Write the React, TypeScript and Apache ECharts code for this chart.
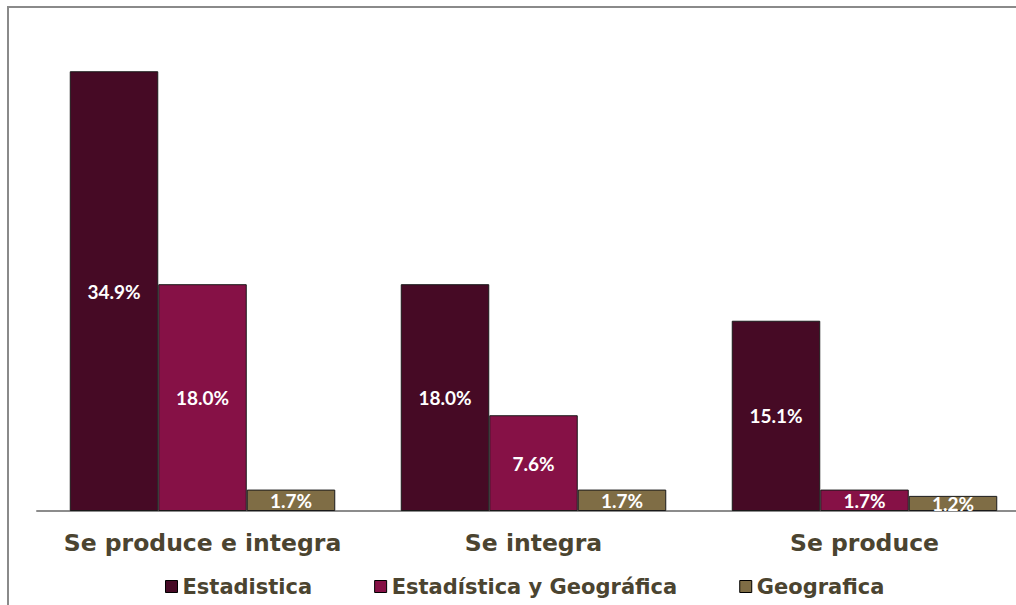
import React, { useEffect, useRef } from "react";
import * as echarts from "echarts";

const categories = ["Se produce e integra", "Se integra", "Se produce"];
const estadistica = [34.9, 18.0, 15.1];
const estadisticaGeografica = [18.0, 7.6, 1.7];
const geografica = [1.7, 1.7, 1.2];
const seriesNames = ["Estadistica", "Estadística y Geográfica", "Geografica"];
const colors = ["#460a25", "#861146", "#7f6d45"];

export default function App() {
  const ref = useRef<HTMLDivElement>(null);
  useEffect(() => {
    if (!ref.current) return;
    const chart = echarts.init(ref.current, undefined, { renderer: "svg" });
    const label = {
      show: true,
      position: "inside",
      color: "#ffffff",
      fontFamily: "Lato",
      fontWeight: "bold",
      fontSize: 19,
      formatter: (p: any) => p.value.toFixed(1) + "%",
    };
    const mk = (name: string, data: number[], color: string) => ({
      name,
      type: "bar",
      data,
      barWidth: 88.5,
      barGap: "0%",
      itemStyle: { color, borderColor: "#1a1a1a", borderWidth: 1 },
      label,
    });
    chart.setOption({
      animation: false,
      color: colors,
      grid: { left: 37, top: 7, right: 0, bottom: 94, containLabel: false },
      xAxis: {
        type: "category",
        data: categories,
        axisLine: { show: true, lineStyle: { color: "#8c8c8c", width: 2 } },
        axisTick: { show: false },
        axisLabel: {
          interval: 0,
          color: "#4b4430",
          fontFamily: "DejaVu Sans",
          fontWeight: "bold",
          fontSize: 23.5,
          margin: 20,
        },
      },
      yAxis: { type: "value", min: 0, max: 40, show: false, splitLine: { show: false } },
      legend: {
        data: seriesNames,
        left: 160,
        top: 571,
        itemWidth: 12,
        itemHeight: 12,
        itemGap: 62,
        icon: "rect",
        itemStyle: { borderColor: "#000000", borderWidth: 1 },
        textStyle: {
          color: "#4b4430",
          fontFamily: "DejaVu Sans",
          fontWeight: "bold",
          fontSize: 21,
        },
      },
      graphic: [
        {
          type: "rect",
          shape: { x: 8, y: 7, width: 1040, height: 620 },
          style: { fill: "none", stroke: "#8a8a8a", lineWidth: 2 },
          silent: true,
          z: -1,
        },
      ],
      series: [
        mk(seriesNames[0], estadistica, colors[0]),
        mk(seriesNames[1], estadisticaGeografica, colors[1]),
        mk(seriesNames[2], geografica, colors[2]),
      ],
    });
    return () => chart.dispose();
  }, []);
  return (
    <div
      style={{
        position: "fixed",
        left: 0,
        top: 0,
        width: 1016,
        height: 605,
        overflow: "hidden",
        background: "#ffffff",
      }}
    >
      <div ref={ref} style={{ width: 1030, height: 605 }} />
    </div>
  );
}
